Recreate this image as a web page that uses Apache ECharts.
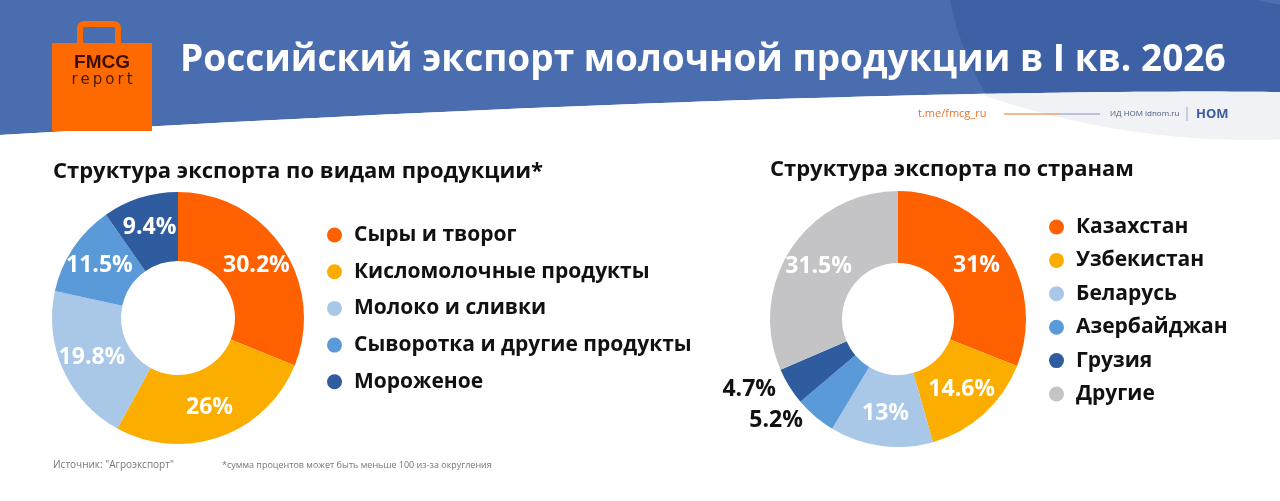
<!DOCTYPE html>
<html><head><meta charset="utf-8">
<script src="https://cdn.jsdelivr.net/npm/echarts@6/dist/echarts.min.js"></script>
<style>html,body{margin:0;padding:0;background:#fff}#c{width:1280px;height:501px}</style>
</head><body><div id="c"></div>
<script>
const productCategories = ['Сыры и творог','Кисломолочные продукты','Молоко и сливки','Сыворотка и другие продукты','Мороженое'];
const productShares = [30.2, 26, 19.8, 11.5, 9.4];
const countryCategories = ['Казахстан','Узбекистан','Беларусь','Азербайджан','Грузия','Другие'];
const countryShares = [31, 14.6, 13, 5.2, 4.7, 31.5];
const productColors = ['#FF6000','#FBAE00','#A9C7E7','#5B9AD9','#2E5C9E'];
const countryColors = ['#FF6000','#FBAE00','#A9C7E7','#5B9AD9','#2E5C9E','#C4C4C6'];
const FONT = '"Open Sans", sans-serif';

const chart = echarts.init(document.getElementById('c'), null, {renderer:'canvas'});

function pct(v){ return String(v) + '%'; }

// decorative header shapes
function bez(t){
  const p0=[0,135], p1=[700,94], p2=[1100,90], p3=[1280,92], u=1-t;
  return [u*u*u*p0[0]+3*u*u*t*p1[0]+3*u*t*t*p2[0]+t*t*t*p3[0],
          u*u*u*p0[1]+3*u*u*t*p1[1]+3*u*t*t*p2[1]+t*t*t*p3[1]];
}
const edge = [];
for (let i=0;i<=60;i++) edge.push(bez(i/60));
function edgeY(x){
  for (let i=1;i<edge.length;i++){ if (edge[i][0]>=x){ const a=edge[i-1], b=edge[i]; return a[1]+(b[1]-a[1])*(x-a[0])/((b[0]-a[0])||1); } }
  return edge[edge.length-1][1];
}
const bandPts = [[0,0],[1280,0]].concat(edge.slice().reverse());
const whitePts = edge.concat([[1280,501],[0,501]]);
const grayPts = [];
for (let x=1280; x>=960; x-=8) grayPts.push([x, edgeY(x)]);
for (let x=960; x<=1280; x+=8){ const y=-676+Math.sqrt(816*816-(x-1250)*(x-1250)); grayPts.push([x, Math.max(y, edgeY(x))]); }

const countryData = countryCategories.map((n,i)=>{
  const d = {name:n, value:countryShares[i], itemStyle:{color:countryColors[i]}};
  if (n==='Азербайджан' || n==='Грузия') {
    d.label = {position:'outside', color:'#111', fontSize:23};
    d.labelLine = {show:false, length:5, length2:4};
  }
  return d;
});

chart.setOption({
  animation:false,
  graphic:[
    {type:'polygon', silent:true, z:1, shape:{points:bandPts}, style:{fill:'#4A6DAF'}},
    {type:'circle', silent:true, z:1, shape:{cx:1250, cy:-60, r:306}, style:{fill:'#3E61A5'}},
    {type:'circle', silent:true, z:1, shape:{cx:1290, cy:-95, r:100}, style:{fill:'#4C70B2'}},
    {type:'polygon', silent:true, z:1, shape:{points:whitePts}, style:{fill:'#FFFFFF'}},
    {type:'polygon', silent:true, z:1, shape:{points:grayPts}, style:{fill:'#F0F2F6'}},
    // logo bag
    {type:'rect', z:5, shape:{x:80, y:24, width:38, height:26, r:[4,4,0,0]}, style:{fill:'none', stroke:'#FF6A00', lineWidth:6}},
    {type:'rect', z:6, shape:{x:52, y:43, width:100, height:88}, style:{fill:'#FF6A00'}},
    {type:'text', z:7, style:{x:102, y:63, text:'FMCG', font:'bold 19px "Liberation Sans", sans-serif', fill:'#3A0E00', align:'center', verticalAlign:'middle'}},
    {type:'text', z:7, style:{x:102, y:80, text:'r\u2009e\u2009p\u2009o\u2009r\u2009t', font:'15px "DejaVu Sans", sans-serif', fill:'#4A1A00', align:'center', verticalAlign:'middle'}},
    // title
    {type:'text', z:7, style:{x:180, y:60, text:'Российский экспорт молочной продукции в I кв. 2026', font:'bold 37px '+FONT, fill:'#FFFFFF', align:'left', verticalAlign:'middle'}},
    // link line
    {type:'text', z:7, style:{x:918, y:114, text:'t.me/fmcg_ru', font:'11px '+FONT, fill:'#E8732A', align:'left', verticalAlign:'middle'}},
    {type:'line', z:7, shape:{x1:1004, y1:114, x2:1060, y2:114}, style:{stroke:'#E8732A', lineWidth:1.2}},
    {type:'line', z:7, shape:{x1:1060, y1:114, x2:1100, y2:114}, style:{stroke:'#7F96C8', lineWidth:1.2}},
    {type:'text', z:7, style:{x:1110, y:114, text:'ИД НОМ idnom.ru', font:'8px '+FONT, fill:'#4A5A78', align:'left', verticalAlign:'middle'}},
    {type:'line', z:7, shape:{x1:1187, y1:107, x2:1187, y2:121}, style:{stroke:'#9AA8C2', lineWidth:1}},
    {type:'text', z:7, style:{x:1196, y:114, text:'НОМ', font:'bold 13px '+FONT, fill:'#3A5DA0', align:'left', verticalAlign:'middle'}},
    // footer
    {type:'text', z:7, style:{x:53, y:465, text:'Источник: "Агроэкспорт"', font:'10px '+FONT, fill:'#777', align:'left', verticalAlign:'middle'}},
    {type:'text', z:7, style:{x:222, y:465, text:'*сумма процентов может быть меньше 100 из-за округления', font:'9px '+FONT, fill:'#777', align:'left', verticalAlign:'middle'}}
  ],
  title:[
    {z:20, text:'Структура экспорта по видам продукции*', left:53, top:161, padding:0, textStyle:{fontFamily:FONT, fontWeight:'bold', fontSize:22, color:'#111'}},
    {z:20, text:'Структура экспорта по странам', left:770, top:159, padding:0, textStyle:{fontFamily:FONT, fontWeight:'bold', fontSize:22, color:'#111'}}
  ],
  legend:[
    {z:20, data:productCategories, orient:'vertical', left:327, top:223, padding:0, icon:'circle', itemWidth:15, itemHeight:15, itemGap:12.7,
     selectedMode:false, textStyle:{fontFamily:FONT, fontWeight:'bold', fontSize:21, lineHeight:24, color:'#111', padding:[0,0,0,7]}},
    {z:20, data:countryCategories, orient:'vertical', left:1049, top:215, padding:0, icon:'circle', itemWidth:15, itemHeight:15, itemGap:9.4,
     selectedMode:false, textStyle:{fontFamily:FONT, fontWeight:'bold', fontSize:21, lineHeight:24, color:'#111', padding:[0,0,0,7]}}
  ],
  series:[
    {type:'pie', z:20, center:[178,318], radius:[57,126], startAngle:90, clockwise:true, avoidLabelOverlap:false, silent:true,
     label:{show:true, position:'inside', formatter:p=>pct(p.value), fontFamily:FONT, fontWeight:'bold', fontSize:23, color:'#fff'},
     labelLine:{show:false},
     data:productCategories.map((n,i)=>({name:n, value:productShares[i], itemStyle:{color:productColors[i]}}))},
    {type:'pie', z:20, center:[898,319], radius:[56,128], startAngle:90, clockwise:true, avoidLabelOverlap:false, silent:true,
     label:{show:true, position:'inside', formatter:p=>pct(p.value), fontFamily:FONT, fontWeight:'bold', fontSize:23, color:'#fff'},
     labelLine:{show:false},
     data:countryData}
  ]
});
</script></body></html>
